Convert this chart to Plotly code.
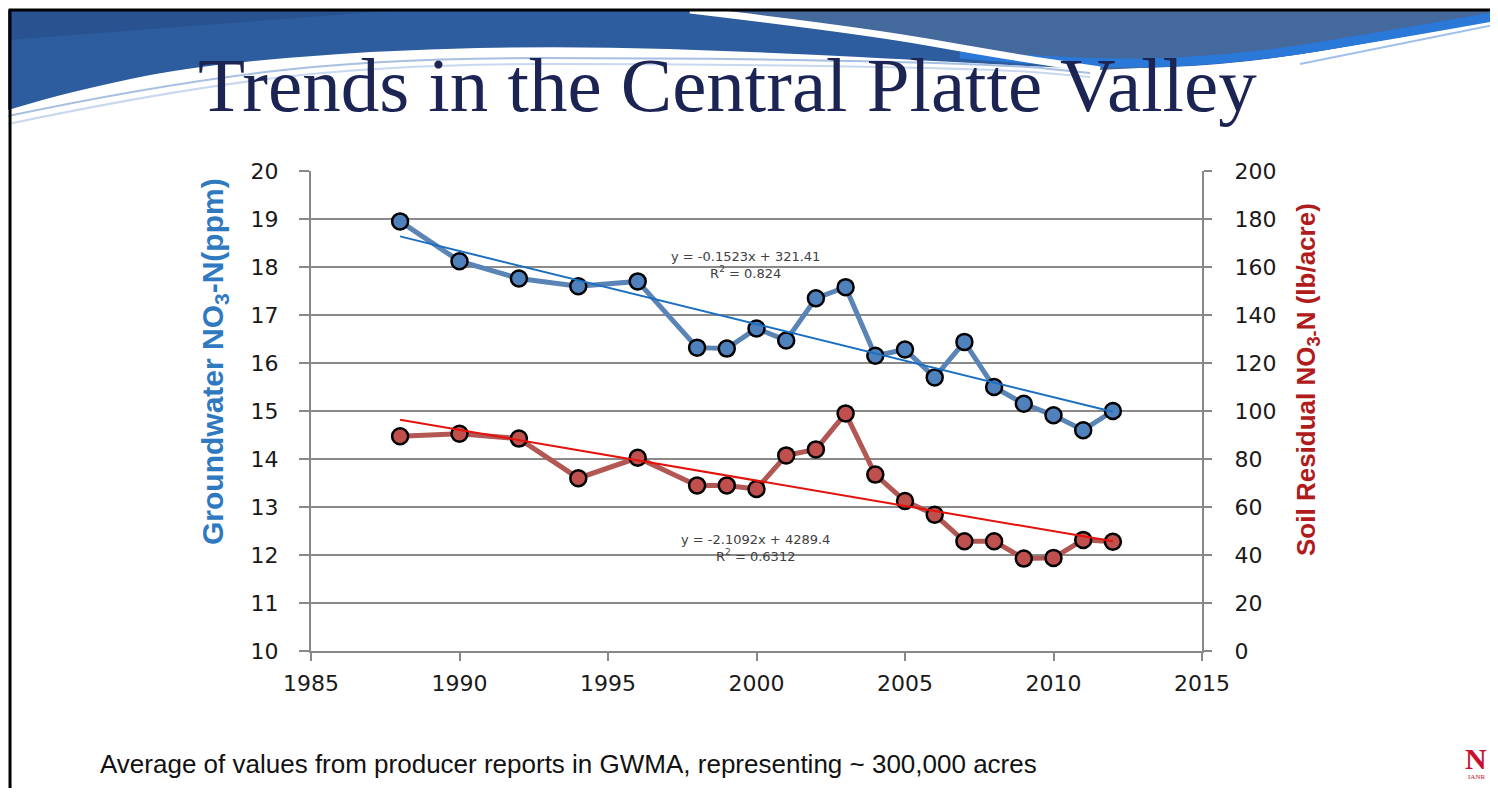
import plotly.graph_objects as go

# Groundwater NO3-N (ppm), left axis
gw_years = [1988, 1990, 1992, 1994, 1996, 1998, 1999, 2000, 2001, 2002,
            2003, 2004, 2005, 2006, 2007, 2008, 2009, 2010, 2011, 2012]
gw_values = [18.95, 18.12, 17.76, 17.6, 17.7, 16.32, 16.3, 16.72, 16.47, 17.35,
             17.58, 16.15, 16.28, 15.7, 16.44, 15.5, 15.15, 14.91, 14.6, 15.0]

# Soil residual NO3-N (lb/acre), right axis
soil_years = gw_years
soil_values = [89.5, 90.5, 88.5, 72.0, 80.5, 69.0, 69.0, 67.5, 81.5, 84.0,
               99.0, 73.5, 62.5, 56.8, 45.7, 45.7, 38.5, 38.8, 46.3, 45.5]

# trendline coefficients as printed on the chart
gw_trend = (-0.1523, 321.41)
soil_trend = (-2.1092, 4289.4)
trend_years = [1988, 2012]

# the page has an 8px body margin, so the figure is a bit smaller than the window
PAGE_MARGIN = 8
W_PX, H_PX = 1498 - 2 * PAGE_MARGIN, 796 - 2 * PAGE_MARGIN
# plot area, in screen pixels
L, R, T, B = 311, 1202, 171, 651


def P(x, y):
    """screen pixel -> paper coords (for decoration / annotations)"""
    return (x - L) / (R - L), (B - y) / (B - T)


def smooth_path(pts, start=None):
    p = [P(*q) for q in pts]
    s = "M %.4f,%.4f " % p[0] if start is None else start
    for i in range(1, len(p) - 1):
        mx, my = (p[i][0] + p[i + 1][0]) / 2, (p[i][1] + p[i + 1][1]) / 2
        s += "Q %.4f,%.4f %.4f,%.4f " % (p[i][0], p[i][1], mx, my)
    s += "L %.4f,%.4f " % p[-1]
    return s


def poly(pts):
    p = [P(*q) for q in pts]
    return "M " + " L ".join("%.4f,%.4f" % q for q in p) + " Z"


fig = go.Figure()

fig.add_trace(go.Scatter(
    x=gw_years, y=gw_values, mode="lines+markers", name="Groundwater",
    line=dict(color="#5a84b6", width=5),
    marker=dict(size=16, color="#4f81bd", line=dict(color="black", width=2.5)),
))
fig.add_trace(go.Scatter(
    x=trend_years, y=[gw_trend[0] * t + gw_trend[1] for t in trend_years],
    mode="lines", line=dict(color="#1c6fc0", width=2), name="gw trend",
))
fig.add_trace(go.Scatter(
    x=soil_years, y=soil_values, mode="lines+markers", name="Soil", yaxis="y2",
    line=dict(color="#b25753", width=5),
    marker=dict(size=16, color="#c0504d", line=dict(color="black", width=2.5)),
))
fig.add_trace(go.Scatter(
    x=trend_years, y=[soil_trend[0] * t + soil_trend[1] for t in trend_years],
    mode="lines", line=dict(color="#e3120b", width=2), name="soil trend", yaxis="y2",
))

# --- slide decoration (banner, frame) ---
lower_edge = [(1498, 19), (1385, 40), (1242, 64), (1098, 70), (955, 62), (764, 52),
              (573, 46), (382, 50), (191, 66), (70, 92), (8, 110)]
edge = smooth_path(lower_edge)
banner = ("M %.4f,%.4f L %.4f,%.4f L %.4f,%.4f " % (*P(8, 10), *P(1498, 10), *P(1498, 19))
          + edge[edge.index("Q"):] + "Z")

right_part = smooth_path([(700, 10), (860, 28), (1000, 53), (1098, 70)])
right_part += smooth_path([(1098, 70), (1242, 64), (1385, 40), (1498, 19)],
                          start="L %.4f,%.4f " % P(1098, 70))
right_part += "L %.4f,%.4f Z" % P(1498, 10)

deco = dict(xref="paper", yref="paper", layer="below")
shapes = [
    dict(type="path", path=banner, fillcolor="#2d5d9f", line=dict(width=0), **deco),
    dict(type="path", path=poly([(8, 10), (400, 10), (8, 40)]), fillcolor="#285290",
         line=dict(width=0), **deco),
    dict(type="path", path=right_part, fillcolor="#44699c", line=dict(width=0), **deco),
    dict(type="path", path=smooth_path([(960, 54), (1098, 66), (1250, 58), (1390, 35), (1498, 16)]),
         line=dict(color="#2a78d8", width=9), **deco),
    dict(type="path", path=smooth_path([(690, 10), (860, 30), (1000, 55), (1100, 70)]),
         line=dict(color="white", width=7), **deco),
    dict(type="path", path=smooth_path([(8, 116), (150, 86), (380, 58), (700, 58), (1000, 64), (1090, 73)]),
         line=dict(color="#a7bfe0", width=2), **deco),
    dict(type="path", path=smooth_path([(8, 124), (160, 92), (390, 64), (700, 64), (1000, 69), (1090, 77)]),
         line=dict(color="#c9d8ee", width=2), **deco),
    dict(type="path", path=smooth_path([(1300, 64), (1420, 40), (1498, 24)]),
         line=dict(color="#9fc0ec", width=2), **deco),
    dict(type="path", path=poly([(10, 10), (1510, 10), (1510, 810), (10, 810)]),
         line=dict(color="black", width=3), fillcolor="rgba(0,0,0,0)", **deco),
]


def ann(x, y, text, **kw):
    px, py = P(x, y)
    d = dict(x=px, y=py, xref="paper", yref="paper", text=text, showarrow=False,
             xanchor="center", yanchor="middle")
    d.update(kw)
    return d


eq_font = dict(family="DejaVu Sans, Verdana, sans-serif", size=13, color="#404040")
axis_title_font = "Liberation Sans Narrow, Liberation Sans, sans-serif"
annotations = [
    ann(727, 85, "Trends in the Central Platte Valley",
        font=dict(family="Liberation Serif, Times New Roman, serif", size=77, color="#1c2453")),
    ann(745, 265, "y = -0.1523x + 321.41<br>R<sup>2</sup> = 0.824", font=eq_font),
    ann(755, 548, "y = -2.1092x + 4289.4<br>R<sup>2</sup> = 0.6312", font=eq_font),
    ann(214, 362, "Groundwater NO<sub>3</sub>-N(ppm)", textangle=-90,
        font=dict(family=axis_title_font, size=30, color="#2f79c0", weight="bold")),
    ann(1307, 380, "Soil Residual NO<sub>3-</sub>N (lb/acre)", textangle=-90,
        font=dict(family=axis_title_font, size=26, color="#b01b1b", weight="bold")),
    ann(98, 764, "Average of values from producer reports in GWMA, representing ~ 300,000 acres",
        xanchor="left", font=dict(family="Liberation Sans, Arial, sans-serif", size=26, color="#111")),
    ann(1476, 758, "<b>N</b>", font=dict(family="Liberation Serif, serif", size=30, color="#c8102e")),
    ann(1476, 777, "IANR", font=dict(family="Liberation Serif, serif", size=7, color="#c8102e")),
]

tick_font = dict(family="DejaVu Sans, Verdana, sans-serif", size=22, color="#1a1a1a")
axis_gray = "#878787"

fig.update_layout(
    width=W_PX, height=H_PX,
    margin=dict(l=L - PAGE_MARGIN, r=W_PX + PAGE_MARGIN - R,
                t=T - PAGE_MARGIN, b=H_PX + PAGE_MARGIN - B),
    paper_bgcolor="white", plot_bgcolor="white",
    showlegend=False,
    shapes=shapes,
    annotations=annotations,
    xaxis=dict(
        range=[1985, 2015], dtick=5, tick0=1985,
        showgrid=False, zeroline=False,
        showline=True, linecolor=axis_gray, linewidth=2,
        ticks="outside", ticklen=8, tickwidth=2, tickcolor=axis_gray,
        tickfont=tick_font, ticklabelstandoff=4,
    ),
    yaxis=dict(
        range=[10, 20], dtick=1,
        showgrid=True, gridcolor="#8a8a8a", gridwidth=2, zeroline=False,
        showline=True, linecolor=axis_gray, linewidth=2,
        ticks="outside", ticklen=10, tickwidth=2, tickcolor=axis_gray,
        tickfont=tick_font, ticklabelstandoff=16,
    ),
    yaxis2=dict(
        range=[0, 200], dtick=20, overlaying="y", side="right",
        showgrid=False, zeroline=False,
        showline=True, linecolor=axis_gray, linewidth=2,
        ticks="outside", ticklen=8, tickwidth=2, tickcolor=axis_gray,
        tickfont=tick_font, ticklabelstandoff=18,
    ),
)

fig.write_html("out.html")
